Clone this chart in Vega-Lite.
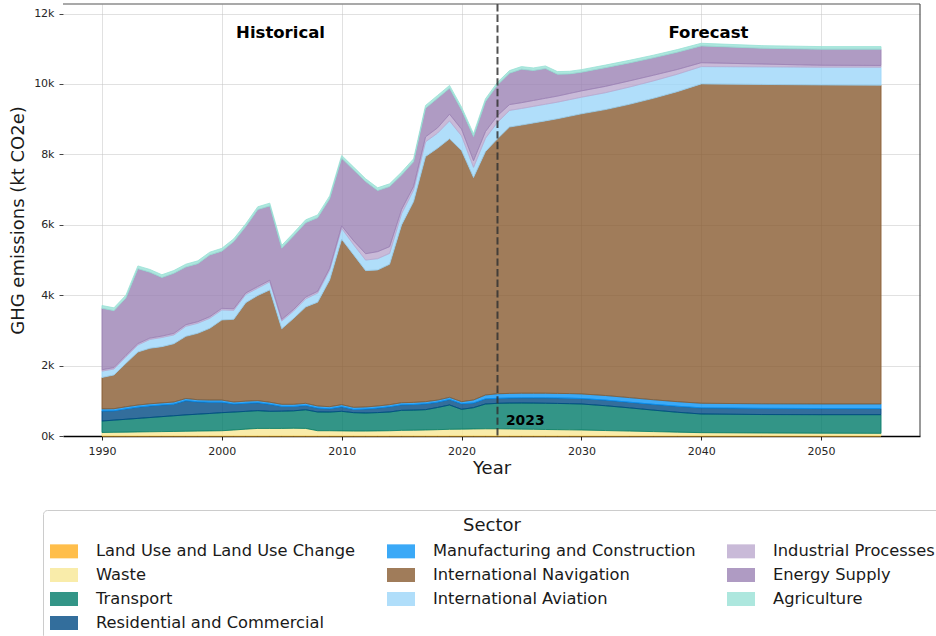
{
"$schema":"https://vega.github.io/schema/vega-lite/v6.json",
"width":857,"height":432,
"autosize":{"type":"none"},
"padding":{"left":63,"top":4,"right":16,"bottom":200},
"background":"white",
"config":{"font":"DejaVu Sans","view":{"stroke":null},
 "axis":{"zindex":1,"gridColor":"#c8c8c8","gridOpacity":0.55,"gridWidth":1,"labelFontSize":11,"labelColor":"#262626","titleFontSize":18,"titleFontWeight":"normal","titleColor":"#1a1a1a","tickColor":"#444444","tickSize":4}},
"datasets":{"emissions":[
{"year":1990,"sector":"Land Use and Land Use Change","value":10},{"year":1990,"sector":"Waste","value":90},{"year":1990,"sector":"Transport","value":326},{"year":1990,"sector":"Residential and Commercial","value":284},{"year":1990,"sector":"Manufacturing and Construction","value":60},{"year":1990,"sector":"International Navigation","value":892},{"year":1990,"sector":"International Aviation","value":180},{"year":1990,"sector":"Industrial Processes","value":40},{"year":1990,"sector":"Energy Supply","value":1745},{"year":1990,"sector":"Agriculture","value":80},
{"year":1991,"sector":"Land Use and Land Use Change","value":10},{"year":1991,"sector":"Waste","value":95},{"year":1991,"sector":"Transport","value":345},{"year":1991,"sector":"Residential and Commercial","value":265},{"year":1991,"sector":"Manufacturing and Construction","value":60},{"year":1991,"sector":"International Navigation","value":958},{"year":1991,"sector":"International Aviation","value":170},{"year":1991,"sector":"Industrial Processes","value":40},{"year":1991,"sector":"Energy Supply","value":1617},{"year":1991,"sector":"Agriculture","value":80},
{"year":1992,"sector":"Land Use and Land Use Change","value":10},{"year":1992,"sector":"Waste","value":100},{"year":1992,"sector":"Transport","value":365},{"year":1992,"sector":"Residential and Commercial","value":295},{"year":1992,"sector":"Manufacturing and Construction","value":60},{"year":1992,"sector":"International Navigation","value":1234},{"year":1992,"sector":"International Aviation","value":185},{"year":1992,"sector":"Industrial Processes","value":40},{"year":1992,"sector":"Energy Supply","value":1631},{"year":1992,"sector":"Agriculture","value":80},
{"year":1993,"sector":"Land Use and Land Use Change","value":10},{"year":1993,"sector":"Waste","value":105},{"year":1993,"sector":"Transport","value":385},{"year":1993,"sector":"Residential and Commercial","value":320},{"year":1993,"sector":"Manufacturing and Construction","value":60},{"year":1993,"sector":"International Navigation","value":1505},{"year":1993,"sector":"International Aviation","value":200},{"year":1993,"sector":"Industrial Processes","value":40},{"year":1993,"sector":"Energy Supply","value":2125},{"year":1993,"sector":"Agriculture","value":80},
{"year":1994,"sector":"Land Use and Land Use Change","value":10},{"year":1994,"sector":"Waste","value":110},{"year":1994,"sector":"Transport","value":405},{"year":1994,"sector":"Residential and Commercial","value":330},{"year":1994,"sector":"Manufacturing and Construction","value":60},{"year":1994,"sector":"International Navigation","value":1576},{"year":1994,"sector":"International Aviation","value":250},{"year":1994,"sector":"Industrial Processes","value":40},{"year":1994,"sector":"Energy Supply","value":1869},{"year":1994,"sector":"Agriculture","value":80},
{"year":1995,"sector":"Land Use and Land Use Change","value":10},{"year":1995,"sector":"Waste","value":115},{"year":1995,"sector":"Transport","value":425},{"year":1995,"sector":"Residential and Commercial","value":330},{"year":1995,"sector":"Manufacturing and Construction","value":60},{"year":1995,"sector":"International Navigation","value":1598},{"year":1995,"sector":"International Aviation","value":260},{"year":1995,"sector":"Industrial Processes","value":40},{"year":1995,"sector":"Energy Supply","value":1662},{"year":1995,"sector":"Agriculture","value":80},
{"year":1996,"sector":"Land Use and Land Use Change","value":10},{"year":1996,"sector":"Waste","value":120},{"year":1996,"sector":"Transport","value":445},{"year":1996,"sector":"Residential and Commercial","value":330},{"year":1996,"sector":"Manufacturing and Construction","value":60},{"year":1996,"sector":"International Navigation","value":1655},{"year":1996,"sector":"International Aviation","value":250},{"year":1996,"sector":"Industrial Processes","value":45},{"year":1996,"sector":"Energy Supply","value":1705},{"year":1996,"sector":"Agriculture","value":80},
{"year":1997,"sector":"Land Use and Land Use Change","value":10},{"year":1997,"sector":"Waste","value":125},{"year":1997,"sector":"Transport","value":465},{"year":1997,"sector":"Residential and Commercial","value":405},{"year":1997,"sector":"Manufacturing and Construction","value":60},{"year":1997,"sector":"International Navigation","value":1765},{"year":1997,"sector":"International Aviation","value":285},{"year":1997,"sector":"Industrial Processes","value":45},{"year":1997,"sector":"Energy Supply","value":1640},{"year":1997,"sector":"Agriculture","value":80},
{"year":1998,"sector":"Land Use and Land Use Change","value":10},{"year":1998,"sector":"Waste","value":130},{"year":1998,"sector":"Transport","value":480},{"year":1998,"sector":"Residential and Commercial","value":350},{"year":1998,"sector":"Manufacturing and Construction","value":60},{"year":1998,"sector":"International Navigation","value":1887},{"year":1998,"sector":"International Aviation","value":285},{"year":1998,"sector":"Industrial Processes","value":45},{"year":1998,"sector":"Energy Supply","value":1648},{"year":1998,"sector":"Agriculture","value":80},
{"year":1999,"sector":"Land Use and Land Use Change","value":10},{"year":1999,"sector":"Waste","value":135},{"year":1999,"sector":"Transport","value":495},{"year":1999,"sector":"Residential and Commercial","value":320},{"year":1999,"sector":"Manufacturing and Construction","value":60},{"year":1999,"sector":"International Navigation","value":2039},{"year":1999,"sector":"International Aviation","value":285},{"year":1999,"sector":"Industrial Processes","value":45},{"year":1999,"sector":"Energy Supply","value":1753},{"year":1999,"sector":"Agriculture","value":80},
{"year":2000,"sector":"Land Use and Land Use Change","value":10},{"year":2000,"sector":"Waste","value":140},{"year":2000,"sector":"Transport","value":513},{"year":2000,"sector":"Residential and Commercial","value":297},{"year":2000,"sector":"Manufacturing and Construction","value":60},{"year":2000,"sector":"International Navigation","value":2275},{"year":2000,"sector":"International Aviation","value":285},{"year":2000,"sector":"Industrial Processes","value":45},{"year":2000,"sector":"Energy Supply","value":1625},{"year":2000,"sector":"Agriculture","value":80},
{"year":2001,"sector":"Land Use and Land Use Change","value":10},{"year":2001,"sector":"Waste","value":160},{"year":2001,"sector":"Transport","value":510},{"year":2001,"sector":"Residential and Commercial","value":226},{"year":2001,"sector":"Manufacturing and Construction","value":60},{"year":2001,"sector":"International Navigation","value":2348},{"year":2001,"sector":"International Aviation","value":255},{"year":2001,"sector":"Industrial Processes","value":45},{"year":2001,"sector":"Energy Supply","value":1907},{"year":2001,"sector":"Agriculture","value":80},
{"year":2002,"sector":"Land Use and Land Use Change","value":10},{"year":2002,"sector":"Waste","value":185},{"year":2002,"sector":"Transport","value":505},{"year":2002,"sector":"Residential and Commercial","value":230},{"year":2002,"sector":"Manufacturing and Construction","value":60},{"year":2002,"sector":"International Navigation","value":2798},{"year":2002,"sector":"International Aviation","value":230},{"year":2002,"sector":"Industrial Processes","value":45},{"year":2002,"sector":"Energy Supply","value":1884},{"year":2002,"sector":"Agriculture","value":80},
{"year":2003,"sector":"Land Use and Land Use Change","value":10},{"year":2003,"sector":"Waste","value":205},{"year":2003,"sector":"Transport","value":505},{"year":2003,"sector":"Residential and Commercial","value":224},{"year":2003,"sector":"Manufacturing and Construction","value":60},{"year":2003,"sector":"International Navigation","value":2986},{"year":2003,"sector":"International Aviation","value":210},{"year":2003,"sector":"Industrial Processes","value":45},{"year":2003,"sector":"Energy Supply","value":2185},{"year":2003,"sector":"Agriculture","value":80},
{"year":2004,"sector":"Land Use and Land Use Change","value":10},{"year":2004,"sector":"Waste","value":205},{"year":2004,"sector":"Transport","value":486},{"year":2004,"sector":"Residential and Commercial","value":199},{"year":2004,"sector":"Manufacturing and Construction","value":60},{"year":2004,"sector":"International Navigation","value":3188},{"year":2004,"sector":"International Aviation","value":230},{"year":2004,"sector":"Industrial Processes","value":45},{"year":2004,"sector":"Energy Supply","value":2111},{"year":2004,"sector":"Agriculture","value":80},
{"year":2005,"sector":"Land Use and Land Use Change","value":10},{"year":2005,"sector":"Waste","value":205},{"year":2005,"sector":"Transport","value":490},{"year":2005,"sector":"Residential and Commercial","value":135},{"year":2005,"sector":"Manufacturing and Construction","value":60},{"year":2005,"sector":"International Navigation","value":2145},{"year":2005,"sector":"International Aviation","value":220},{"year":2005,"sector":"Industrial Processes","value":45},{"year":2005,"sector":"Energy Supply","value":2026},{"year":2005,"sector":"Agriculture","value":80},
{"year":2006,"sector":"Land Use and Land Use Change","value":10},{"year":2006,"sector":"Waste","value":210},{"year":2006,"sector":"Transport","value":495},{"year":2006,"sector":"Residential and Commercial","value":125},{"year":2006,"sector":"Manufacturing and Construction","value":60},{"year":2006,"sector":"International Navigation","value":2443},{"year":2006,"sector":"International Aviation","value":210},{"year":2006,"sector":"Industrial Processes","value":45},{"year":2006,"sector":"Energy Supply","value":2092},{"year":2006,"sector":"Agriculture","value":80},
{"year":2007,"sector":"Land Use and Land Use Change","value":10},{"year":2007,"sector":"Waste","value":205},{"year":2007,"sector":"Transport","value":530},{"year":2007,"sector":"Residential and Commercial","value":123},{"year":2007,"sector":"Manufacturing and Construction","value":60},{"year":2007,"sector":"International Navigation","value":2737},{"year":2007,"sector":"International Aviation","value":230},{"year":2007,"sector":"Industrial Processes","value":50},{"year":2007,"sector":"Energy Supply","value":2115},{"year":2007,"sector":"Agriculture","value":80},
{"year":2008,"sector":"Land Use and Land Use Change","value":10},{"year":2008,"sector":"Waste","value":140},{"year":2008,"sector":"Transport","value":532},{"year":2008,"sector":"Residential and Commercial","value":110},{"year":2008,"sector":"Manufacturing and Construction","value":60},{"year":2008,"sector":"International Navigation","value":2948},{"year":2008,"sector":"International Aviation","value":260},{"year":2008,"sector":"Industrial Processes","value":50},{"year":2008,"sector":"Energy Supply","value":2090},{"year":2008,"sector":"Agriculture","value":80},
{"year":2009,"sector":"Land Use and Land Use Change","value":10},{"year":2009,"sector":"Waste","value":140},{"year":2009,"sector":"Transport","value":530},{"year":2009,"sector":"Residential and Commercial","value":93},{"year":2009,"sector":"Manufacturing and Construction","value":60},{"year":2009,"sector":"International Navigation","value":3599},{"year":2009,"sector":"International Aviation","value":280},{"year":2009,"sector":"Industrial Processes","value":55},{"year":2009,"sector":"Energy Supply","value":1973},{"year":2009,"sector":"Agriculture","value":80},
{"year":2010,"sector":"Land Use and Land Use Change","value":10},{"year":2010,"sector":"Waste","value":135},{"year":2010,"sector":"Transport","value":556},{"year":2010,"sector":"Residential and Commercial","value":129},{"year":2010,"sector":"Manufacturing and Construction","value":60},{"year":2010,"sector":"International Navigation","value":4697},{"year":2010,"sector":"International Aviation","value":310},{"year":2010,"sector":"Industrial Processes","value":70},{"year":2010,"sector":"Energy Supply","value":1921},{"year":2010,"sector":"Agriculture","value":80},
{"year":2011,"sector":"Land Use and Land Use Change","value":10},{"year":2011,"sector":"Waste","value":130},{"year":2011,"sector":"Transport","value":523},{"year":2011,"sector":"Residential and Commercial","value":91},{"year":2011,"sector":"Manufacturing and Construction","value":60},{"year":2011,"sector":"International Navigation","value":4328},{"year":2011,"sector":"International Aviation","value":290},{"year":2011,"sector":"Industrial Processes","value":110},{"year":2011,"sector":"Energy Supply","value":2015},{"year":2011,"sector":"Agriculture","value":80},
{"year":2012,"sector":"Land Use and Land Use Change","value":10},{"year":2012,"sector":"Waste","value":130},{"year":2012,"sector":"Transport","value":513},{"year":2012,"sector":"Residential and Commercial","value":112},{"year":2012,"sector":"Manufacturing and Construction","value":60},{"year":2012,"sector":"International Navigation","value":3872},{"year":2012,"sector":"International Aviation","value":300},{"year":2012,"sector":"Industrial Processes","value":180},{"year":2012,"sector":"Energy Supply","value":2048},{"year":2012,"sector":"Agriculture","value":80},
{"year":2013,"sector":"Land Use and Land Use Change","value":10},{"year":2013,"sector":"Waste","value":135},{"year":2013,"sector":"Transport","value":520},{"year":2013,"sector":"Residential and Commercial","value":127},{"year":2013,"sector":"Manufacturing and Construction","value":60},{"year":2013,"sector":"International Navigation","value":3864},{"year":2013,"sector":"International Aviation","value":320},{"year":2013,"sector":"Industrial Processes","value":200},{"year":2013,"sector":"Energy Supply","value":1734},{"year":2013,"sector":"Agriculture","value":80},
{"year":2014,"sector":"Land Use and Land Use Change","value":10},{"year":2014,"sector":"Waste","value":140},{"year":2014,"sector":"Transport","value":532},{"year":2014,"sector":"Residential and Commercial","value":148},{"year":2014,"sector":"Manufacturing and Construction","value":60},{"year":2014,"sector":"International Navigation","value":3987},{"year":2014,"sector":"International Aviation","value":310},{"year":2014,"sector":"Industrial Processes","value":190},{"year":2014,"sector":"Energy Supply","value":1706},{"year":2014,"sector":"Agriculture","value":80},
{"year":2015,"sector":"Land Use and Land Use Change","value":10},{"year":2015,"sector":"Waste","value":150},{"year":2015,"sector":"Transport","value":569},{"year":2015,"sector":"Residential and Commercial","value":156},{"year":2015,"sector":"Manufacturing and Construction","value":60},{"year":2015,"sector":"International Navigation","value":5049},{"year":2015,"sector":"International Aviation","value":320},{"year":2015,"sector":"Industrial Processes","value":120},{"year":2015,"sector":"Energy Supply","value":981},{"year":2015,"sector":"Agriculture","value":80},
{"year":2016,"sector":"Land Use and Land Use Change","value":10},{"year":2016,"sector":"Waste","value":155},{"year":2016,"sector":"Transport","value":570},{"year":2016,"sector":"Residential and Commercial","value":160},{"year":2016,"sector":"Manufacturing and Construction","value":60},{"year":2016,"sector":"International Navigation","value":5702},{"year":2016,"sector":"International Aviation","value":330},{"year":2016,"sector":"Industrial Processes","value":100},{"year":2016,"sector":"Energy Supply","value":706},{"year":2016,"sector":"Agriculture","value":80},
{"year":2017,"sector":"Land Use and Land Use Change","value":10},{"year":2017,"sector":"Waste","value":160},{"year":2017,"sector":"Transport","value":578},{"year":2017,"sector":"Residential and Commercial","value":167},{"year":2017,"sector":"Manufacturing and Construction","value":60},{"year":2017,"sector":"International Navigation","value":6961},{"year":2017,"sector":"International Aviation","value":420},{"year":2017,"sector":"Industrial Processes","value":140},{"year":2017,"sector":"Energy Supply","value":813},{"year":2017,"sector":"Agriculture","value":80},
{"year":2018,"sector":"Land Use and Land Use Change","value":10},{"year":2018,"sector":"Waste","value":170},{"year":2018,"sector":"Transport","value":630},{"year":2018,"sector":"Residential and Commercial","value":150},{"year":2018,"sector":"Manufacturing and Construction","value":60},{"year":2018,"sector":"International Navigation","value":7153},{"year":2018,"sector":"International Aviation","value":430},{"year":2018,"sector":"Industrial Processes","value":150},{"year":2018,"sector":"Energy Supply","value":840},{"year":2018,"sector":"Agriculture","value":80},
{"year":2019,"sector":"Land Use and Land Use Change","value":10},{"year":2019,"sector":"Waste","value":180},{"year":2019,"sector":"Transport","value":691},{"year":2019,"sector":"Residential and Commercial","value":157},{"year":2019,"sector":"Manufacturing and Construction","value":60},{"year":2019,"sector":"International Navigation","value":7342},{"year":2019,"sector":"International Aviation","value":510},{"year":2019,"sector":"Industrial Processes","value":190},{"year":2019,"sector":"Energy Supply","value":737},{"year":2019,"sector":"Agriculture","value":80},
{"year":2020,"sector":"Land Use and Land Use Change","value":10},{"year":2020,"sector":"Waste","value":185},{"year":2020,"sector":"Transport","value":563},{"year":2020,"sector":"Residential and Commercial","value":157},{"year":2020,"sector":"Manufacturing and Construction","value":60},{"year":2020,"sector":"International Navigation","value":7131},{"year":2020,"sector":"International Aviation","value":420},{"year":2020,"sector":"Industrial Processes","value":190},{"year":2020,"sector":"Energy Supply","value":545},{"year":2020,"sector":"Agriculture","value":80},
{"year":2021,"sector":"Land Use and Land Use Change","value":10},{"year":2021,"sector":"Waste","value":190},{"year":2021,"sector":"Transport","value":605},{"year":2021,"sector":"Residential and Commercial","value":133},{"year":2021,"sector":"Manufacturing and Construction","value":85},{"year":2021,"sector":"International Navigation","value":6317},{"year":2021,"sector":"International Aviation","value":290},{"year":2021,"sector":"Industrial Processes","value":190},{"year":2021,"sector":"Energy Supply","value":684},{"year":2021,"sector":"Agriculture","value":80},
{"year":2022,"sector":"Land Use and Land Use Change","value":10},{"year":2022,"sector":"Waste","value":195},{"year":2022,"sector":"Transport","value":704},{"year":2022,"sector":"Residential and Commercial","value":146},{"year":2022,"sector":"Manufacturing and Construction","value":110},{"year":2022,"sector":"International Navigation","value":6913},{"year":2022,"sector":"International Aviation","value":380},{"year":2022,"sector":"Industrial Processes","value":190},{"year":2022,"sector":"Energy Supply","value":850},{"year":2022,"sector":"Agriculture","value":80},
{"year":2023,"sector":"Land Use and Land Use Change","value":10},{"year":2023,"sector":"Waste","value":195},{"year":2023,"sector":"Transport","value":723},{"year":2023,"sector":"Residential and Commercial","value":142},{"year":2023,"sector":"Manufacturing and Construction","value":130},{"year":2023,"sector":"International Navigation","value":7240},{"year":2023,"sector":"International Aviation","value":470},{"year":2023,"sector":"Industrial Processes","value":190},{"year":2023,"sector":"Energy Supply","value":872},{"year":2023,"sector":"Agriculture","value":75},
{"year":2024,"sector":"Land Use and Land Use Change","value":10},{"year":2024,"sector":"Waste","value":190},{"year":2024,"sector":"Transport","value":735},{"year":2024,"sector":"Residential and Commercial","value":145},{"year":2024,"sector":"Manufacturing and Construction","value":130},{"year":2024,"sector":"International Navigation","value":7565},{"year":2024,"sector":"International Aviation","value":472},{"year":2024,"sector":"Industrial Processes","value":165},{"year":2024,"sector":"Energy Supply","value":891},{"year":2024,"sector":"Agriculture","value":75},
{"year":2025,"sector":"Land Use and Land Use Change","value":10},{"year":2025,"sector":"Waste","value":185},{"year":2025,"sector":"Transport","value":742},{"year":2025,"sector":"Residential and Commercial","value":148},{"year":2025,"sector":"Manufacturing and Construction","value":130},{"year":2025,"sector":"International Navigation","value":7615},{"year":2025,"sector":"International Aviation","value":472},{"year":2025,"sector":"Industrial Processes","value":165},{"year":2025,"sector":"Energy Supply","value":950},{"year":2025,"sector":"Agriculture","value":75},
{"year":2026,"sector":"Land Use and Land Use Change","value":10},{"year":2026,"sector":"Waste","value":180},{"year":2026,"sector":"Transport","value":745},{"year":2026,"sector":"Residential and Commercial","value":150},{"year":2026,"sector":"Manufacturing and Construction","value":130},{"year":2026,"sector":"International Navigation","value":7675},{"year":2026,"sector":"International Aviation","value":472},{"year":2026,"sector":"Industrial Processes","value":168},{"year":2026,"sector":"Energy Supply","value":849},{"year":2026,"sector":"Agriculture","value":75},
{"year":2027,"sector":"Land Use and Land Use Change","value":10},{"year":2027,"sector":"Waste","value":175},{"year":2027,"sector":"Transport","value":745},{"year":2027,"sector":"Residential and Commercial","value":155},{"year":2027,"sector":"Manufacturing and Construction","value":130},{"year":2027,"sector":"International Navigation","value":7735},{"year":2027,"sector":"International Aviation","value":472},{"year":2027,"sector":"Industrial Processes","value":170},{"year":2027,"sector":"Energy Supply","value":844},{"year":2027,"sector":"Agriculture","value":75},
{"year":2028,"sector":"Land Use and Land Use Change","value":10},{"year":2028,"sector":"Waste","value":170},{"year":2028,"sector":"Transport","value":745},{"year":2028,"sector":"Residential and Commercial","value":155},{"year":2028,"sector":"Manufacturing and Construction","value":130},{"year":2028,"sector":"International Navigation","value":7800},{"year":2028,"sector":"International Aviation","value":472},{"year":2028,"sector":"Industrial Processes","value":172},{"year":2028,"sector":"Energy Supply","value":621},{"year":2028,"sector":"Agriculture","value":75},
{"year":2029,"sector":"Land Use and Land Use Change","value":10},{"year":2029,"sector":"Waste","value":165},{"year":2029,"sector":"Transport","value":743},{"year":2029,"sector":"Residential and Commercial","value":157},{"year":2029,"sector":"Manufacturing and Construction","value":130},{"year":2029,"sector":"International Navigation","value":7875},{"year":2029,"sector":"International Aviation","value":472},{"year":2029,"sector":"Industrial Processes","value":176},{"year":2029,"sector":"Energy Supply","value":556},{"year":2029,"sector":"Agriculture","value":75},
{"year":2030,"sector":"Land Use and Land Use Change","value":10},{"year":2030,"sector":"Waste","value":160},{"year":2030,"sector":"Transport","value":739},{"year":2030,"sector":"Residential and Commercial","value":156},{"year":2030,"sector":"Manufacturing and Construction","value":130},{"year":2030,"sector":"International Navigation","value":7955},{"year":2030,"sector":"International Aviation","value":472},{"year":2030,"sector":"Industrial Processes","value":180},{"year":2030,"sector":"Energy Supply","value":529},{"year":2030,"sector":"Agriculture","value":75},
{"year":2032,"sector":"Land Use and Land Use Change","value":10},{"year":2032,"sector":"Waste","value":145},{"year":2032,"sector":"Transport","value":705},{"year":2032,"sector":"Residential and Commercial","value":160},{"year":2032,"sector":"Manufacturing and Construction","value":130},{"year":2032,"sector":"International Navigation","value":8120},{"year":2032,"sector":"International Aviation","value":480},{"year":2032,"sector":"Industrial Processes","value":180},{"year":2032,"sector":"Energy Supply","value":530},{"year":2032,"sector":"Agriculture","value":75},
{"year":2034,"sector":"Land Use and Land Use Change","value":10},{"year":2034,"sector":"Waste","value":130},{"year":2034,"sector":"Transport","value":660},{"year":2034,"sector":"Residential and Commercial","value":160},{"year":2034,"sector":"Manufacturing and Construction","value":130},{"year":2034,"sector":"International Navigation","value":8330},{"year":2034,"sector":"International Aviation","value":490},{"year":2034,"sector":"Industrial Processes","value":175},{"year":2034,"sector":"Energy Supply","value":510},{"year":2034,"sector":"Agriculture","value":75},
{"year":2036,"sector":"Land Use and Land Use Change","value":10},{"year":2036,"sector":"Waste","value":115},{"year":2036,"sector":"Transport","value":610},{"year":2036,"sector":"Residential and Commercial","value":165},{"year":2036,"sector":"Manufacturing and Construction","value":130},{"year":2036,"sector":"International Navigation","value":8560},{"year":2036,"sector":"International Aviation","value":495},{"year":2036,"sector":"Industrial Processes","value":160},{"year":2036,"sector":"Energy Supply","value":495},{"year":2036,"sector":"Agriculture","value":75},
{"year":2038,"sector":"Land Use and Land Use Change","value":10},{"year":2038,"sector":"Waste","value":100},{"year":2038,"sector":"Transport","value":565},{"year":2038,"sector":"Residential and Commercial","value":170},{"year":2038,"sector":"Manufacturing and Construction","value":130},{"year":2038,"sector":"International Navigation","value":8805},{"year":2038,"sector":"International Aviation","value":495},{"year":2038,"sector":"Industrial Processes","value":135},{"year":2038,"sector":"Energy Supply","value":490},{"year":2038,"sector":"Agriculture","value":75},
{"year":2040,"sector":"Land Use and Land Use Change","value":10},{"year":2040,"sector":"Waste","value":85},{"year":2040,"sector":"Transport","value":530},{"year":2040,"sector":"Residential and Commercial","value":175},{"year":2040,"sector":"Manufacturing and Construction","value":130},{"year":2040,"sector":"International Navigation","value":9070},{"year":2040,"sector":"International Aviation","value":492},{"year":2040,"sector":"Industrial Processes","value":110},{"year":2040,"sector":"Energy Supply","value":478},{"year":2040,"sector":"Agriculture","value":75},
{"year":2045,"sector":"Land Use and Land Use Change","value":10},{"year":2045,"sector":"Waste","value":75},{"year":2045,"sector":"Transport","value":525},{"year":2045,"sector":"Residential and Commercial","value":175},{"year":2045,"sector":"Manufacturing and Construction","value":130},{"year":2045,"sector":"International Navigation","value":9070},{"year":2045,"sector":"International Aviation","value":500},{"year":2045,"sector":"Industrial Processes","value":80},{"year":2045,"sector":"Energy Supply","value":448},{"year":2045,"sector":"Agriculture","value":75},
{"year":2050,"sector":"Land Use and Land Use Change","value":10},{"year":2050,"sector":"Waste","value":70},{"year":2050,"sector":"Transport","value":526},{"year":2050,"sector":"Residential and Commercial","value":174},{"year":2050,"sector":"Manufacturing and Construction","value":130},{"year":2050,"sector":"International Navigation","value":9060},{"year":2050,"sector":"International Aviation","value":505},{"year":2050,"sector":"Industrial Processes","value":55},{"year":2050,"sector":"Energy Supply","value":455},{"year":2050,"sector":"Agriculture","value":75},
{"year":2055,"sector":"Land Use and Land Use Change","value":10},{"year":2055,"sector":"Waste","value":65},{"year":2055,"sector":"Transport","value":531},{"year":2055,"sector":"Residential and Commercial","value":174},{"year":2055,"sector":"Manufacturing and Construction","value":130},{"year":2055,"sector":"International Navigation","value":9055},{"year":2055,"sector":"International Aviation","value":510},{"year":2055,"sector":"Industrial Processes","value":50},{"year":2055,"sector":"Energy Supply","value":460},{"year":2055,"sector":"Agriculture","value":75}
],
"sectors":[{"sector":"Land Use and Land Use Change","k":0},{"sector":"Waste","k":1},{"sector":"Transport","k":2},{"sector":"Residential and Commercial","k":3},{"sector":"Manufacturing and Construction","k":4},{"sector":"International Navigation","k":5},{"sector":"International Aviation","k":6},{"sector":"Industrial Processes","k":7},{"sector":"Energy Supply","k":8},{"sector":"Agriculture","k":9}],
"one":[{"n":1}]},
"layer":[
{"data":{"name":"emissions"},
 "transform":[{"lookup":"sector","from":{"data":{"name":"sectors"},"key":"sector","fields":["k"]}}],
 "mark":{"type":"area","fillOpacity":0.8,"strokeOpacity":0.8,"strokeWidth":1},
 "encoding":{
  "x":{"field":"year","type":"quantitative","scale":{"domain":[1986.75,2058.25],"nice":false,"zero":false},
       "axis":{"title":"Year","values":[1990,2000,2010,2020,2030,2040,2050],"format":"d","domainColor":"#000000","domainWidth":1.6,"tickColor":"#222222","labelPadding":5,"titlePadding":3}},
  "y":{"field":"value","type":"quantitative","stack":"zero","scale":{"domain":[0,12270],"nice":false},
       "axis":{"title":"GHG emissions (kt CO2e)","values":[0,2000,4000,6000,8000,10000,12000],"format":"~s","domain":false,"labelPadding":5,"titlePadding":6}},
  "color":{"field":"sector","type":"nominal",
   "scale":{"domain":["Land Use and Land Use Change","Manufacturing and Construction","Industrial Processes","Waste","International Navigation","Energy Supply","Transport","International Aviation","Agriculture","Residential and Commercial"],
            "range":["#FFAE1E","#0A93F5","#BCA9CE","#F8E795","#885B31","#9B82B4","#007B69","#9CD6F9","#99E1D6","#004A83"]},
   "legend":{"title":"Sector","orient":"none","direction":"horizontal","legendX":-20,"legendY":506,"columns":3,"titleAnchor":"middle","titleFontSize":18,"titleFontWeight":"normal","titleColor":"#1a1a1a","titlePadding":2,
     "labelFontSize":16.3,"labelColor":"#1a1a1a","labelLimit":400,"labelOffset":18,"columnPadding":31,"rowPadding":1,
     "symbolType":"M-1,-0.5H1V0.5H-1Z","symbolSize":784,"symbolOpacity":0.8,"symbolStrokeWidth":0,
     "padding":7,"strokeColor":"#cccccc","fillColor":"white","cornerRadius":4}},
  "stroke":{"field":"sector","type":"nominal","legend":null,
   "scale":{"domain":["Land Use and Land Use Change","Manufacturing and Construction","Industrial Processes","Waste","International Navigation","Energy Supply","Transport","International Aviation","Agriculture","Residential and Commercial"],
            "range":["#FFAE1E","#0A93F5","#BCA9CE","#F8E795","#885B31","#9B82B4","#007B69","#9CD6F9","#99E1D6","#004A83"]}},
  "order":{"field":"k","type":"quantitative"}
 }},
{"data":{"name":"one"},"mark":{"type":"rule","color":"#333333","strokeWidth":2,"strokeDash":[7.4,3.2],"opacity":0.85},"encoding":{"x":{"datum":2023}}},
{"data":{"name":"one"},"mark":{"type":"rule","color":"#555555","strokeWidth":1.2},"encoding":{"y":{"datum":12270}}},
{"data":{"name":"one"},"mark":{"type":"rule","color":"#555555","strokeWidth":1.2},"encoding":{"x":{"datum":2058.25}}},
{"data":{"name":"one"},"mark":{"type":"text","text":"Historical","fontWeight":"bold","fontSize":16.5,"color":"#000000","baseline":"middle","align":"center"},"encoding":{"x":{"datum":2004.9},"y":{"datum":11450}}},
{"data":{"name":"one"},"mark":{"type":"text","text":"Forecast","fontWeight":"bold","fontSize":16.5,"color":"#000000","baseline":"middle","align":"center"},"encoding":{"x":{"datum":2040.6},"y":{"datum":11450}}},
{"data":{"name":"one"},"mark":{"type":"text","text":"2023","fontWeight":"bold","fontSize":13.9,"color":"#000000","baseline":"middle","align":"left"},"encoding":{"x":{"datum":2023.7},"y":{"datum":430}}}
]
}
